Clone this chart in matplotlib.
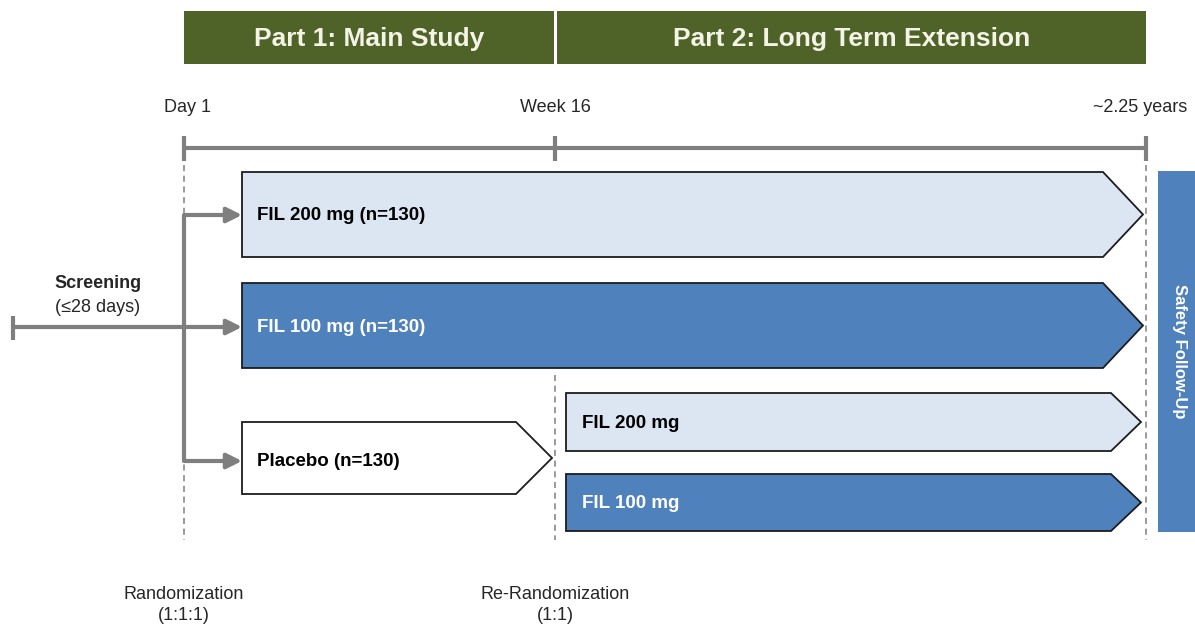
"""Study design schematic: Part 1 main study and Part 2 long term extension."""

import matplotlib

matplotlib.use("Agg")
import matplotlib.pyplot as plt
from matplotlib.patches import FancyArrowPatch, Polygon, Rectangle

plt.rcParams["font.family"] = ["Liberation Sans", "DejaVu Sans"]

# content
part_titles = ["Part 1: Main Study", "Part 2: Long Term Extension"]
milestones = ["Day 1", "Week 16", "~2.25 years"]
part1_arms = ["FIL 200 mg (n=130)", "FIL 100 mg (n=130)", "Placebo (n=130)"]
part2_arms = ["FIL 200 mg", "FIL 100 mg"]
randomizations = ["Randomization\n(1:1:1)", "Re-Randomization\n(1:1)"]
screening = ["Screening", "(\u226428 days)"]
follow_up = "Safety Follow-Up"

GREEN = "#4f6228"
LIGHT = "#dce6f2"
BLUE = "#4f81bd"
GRAY = "#7f7f7f"
EDGE = "#1c1c1c"
TEXT = "#262626"


def arrow_box(ax, x0, x1, tip, y0, y1, color):
    pts = [(x0, y0), (x1, y0), (tip, (y0 + y1) / 2), (x1, y1), (x0, y1)]
    ax.add_patch(Polygon(pts, closed=True, facecolor=color, edgecolor=EDGE, linewidth=1.3, zorder=3))


def gray_arrow(ax, start, end):
    ax.add_patch(
        FancyArrowPatch(start, end, arrowstyle="-|>,head_length=0.9,head_width=0.45", mutation_scale=10,
                        linewidth=3, color=GRAY, shrinkA=0, shrinkB=0, zorder=4)
    )


fig = plt.figure(figsize=(11.95, 6.28), dpi=100)
ax = fig.add_axes([0, 0, 1, 1])
ax.set_xlim(0, 1195)
ax.set_ylim(628, 0)
ax.axis("off")

# header bars
x_day1, x_wk16, x_end = 184, 555, 1146
for (a, b), title in zip([(x_day1, x_wk16 - 1), (x_wk16 + 2, x_end)], part_titles):
    ax.add_patch(Rectangle((a, 11), b - a, 53, facecolor=GREEN, edgecolor="none"))
    ax.text((a + b) / 2, 39, title, ha="center", va="center", fontsize=19, weight="bold", color="#f3f3e6")

# timeline
ax.plot([x_day1, x_end], [148, 148], color=GRAY, lw=3, solid_capstyle="butt")
for x, dx, label in zip([x_day1, x_wk16, x_end], [4, 0, -6], milestones):
    ax.plot([x, x], [136, 161], color=GRAY, lw=3, solid_capstyle="butt")
    ax.text(x + dx, 108, label, ha="center", va="center", fontsize=13, color=TEXT)

# dashed guides
dash = dict(color=GRAY, lw=1.1, linestyle=(0, (4, 3)), zorder=1)
ax.plot([x_day1, x_day1], [165, 540], **dash)
ax.plot([x_wk16, x_wk16], [375, 540], **dash)
ax.plot([x_end, x_end], [165, 540], **dash)

# part 1 arms
arrow_box(ax, 242, 1103, 1143, 172, 257, LIGHT)
arrow_box(ax, 242, 1103, 1143, 283, 368, BLUE)
arrow_box(ax, 242, 516, 552, 422, 494, "white")
ax.text(257, 216, part1_arms[0], ha="left", va="center", fontsize=13.5, weight="bold", color="black", zorder=5)
ax.text(257, 327, part1_arms[1], ha="left", va="center", fontsize=13.5, weight="bold", color="white", zorder=5)
ax.text(257, 461, part1_arms[2], ha="left", va="center", fontsize=13.5, weight="bold", color="black", zorder=5)

# part 2 arms
arrow_box(ax, 566, 1111, 1141, 393, 451, LIGHT)
arrow_box(ax, 566, 1111, 1141, 474, 531, BLUE)
ax.text(582, 424, part2_arms[0], ha="left", va="center", fontsize=13.5, weight="bold", color="black", zorder=5)
ax.text(582, 504, part2_arms[1], ha="left", va="center", fontsize=13.5, weight="bold", color="white", zorder=5)

# screening and randomization arrows
ax.text(98, 284, screening[0], ha="center", va="center", fontsize=13, weight="bold", color=TEXT)
ax.text(98, 307, screening[1], ha="center", va="center", fontsize=13, color=TEXT)
ax.plot([13, 13], [316, 340], color=GRAY, lw=3, solid_capstyle="butt", zorder=4)
gray_arrow(ax, (13, 327), (242, 327))
ax.plot([x_day1, x_day1], [215, 461], color=GRAY, lw=3, solid_capstyle="butt", zorder=4)
gray_arrow(ax, (x_day1, 215), (242, 215))
gray_arrow(ax, (x_day1, 461), (242, 461))

# safety follow-up
ax.add_patch(Rectangle((1158, 171), 40, 361, facecolor=BLUE, edgecolor="none"))
ax.text(1180, 351, follow_up, rotation=270, ha="center", va="center", fontsize=12, weight="bold", color="white")

# bottom labels
for x, label in zip([x_day1, x_wk16], randomizations):
    ax.text(x, 605, label, ha="center", va="center", fontsize=13, color=TEXT, linespacing=1.25)

fig.savefig("out.png", dpi=100, facecolor="white")
plt.close(fig)
